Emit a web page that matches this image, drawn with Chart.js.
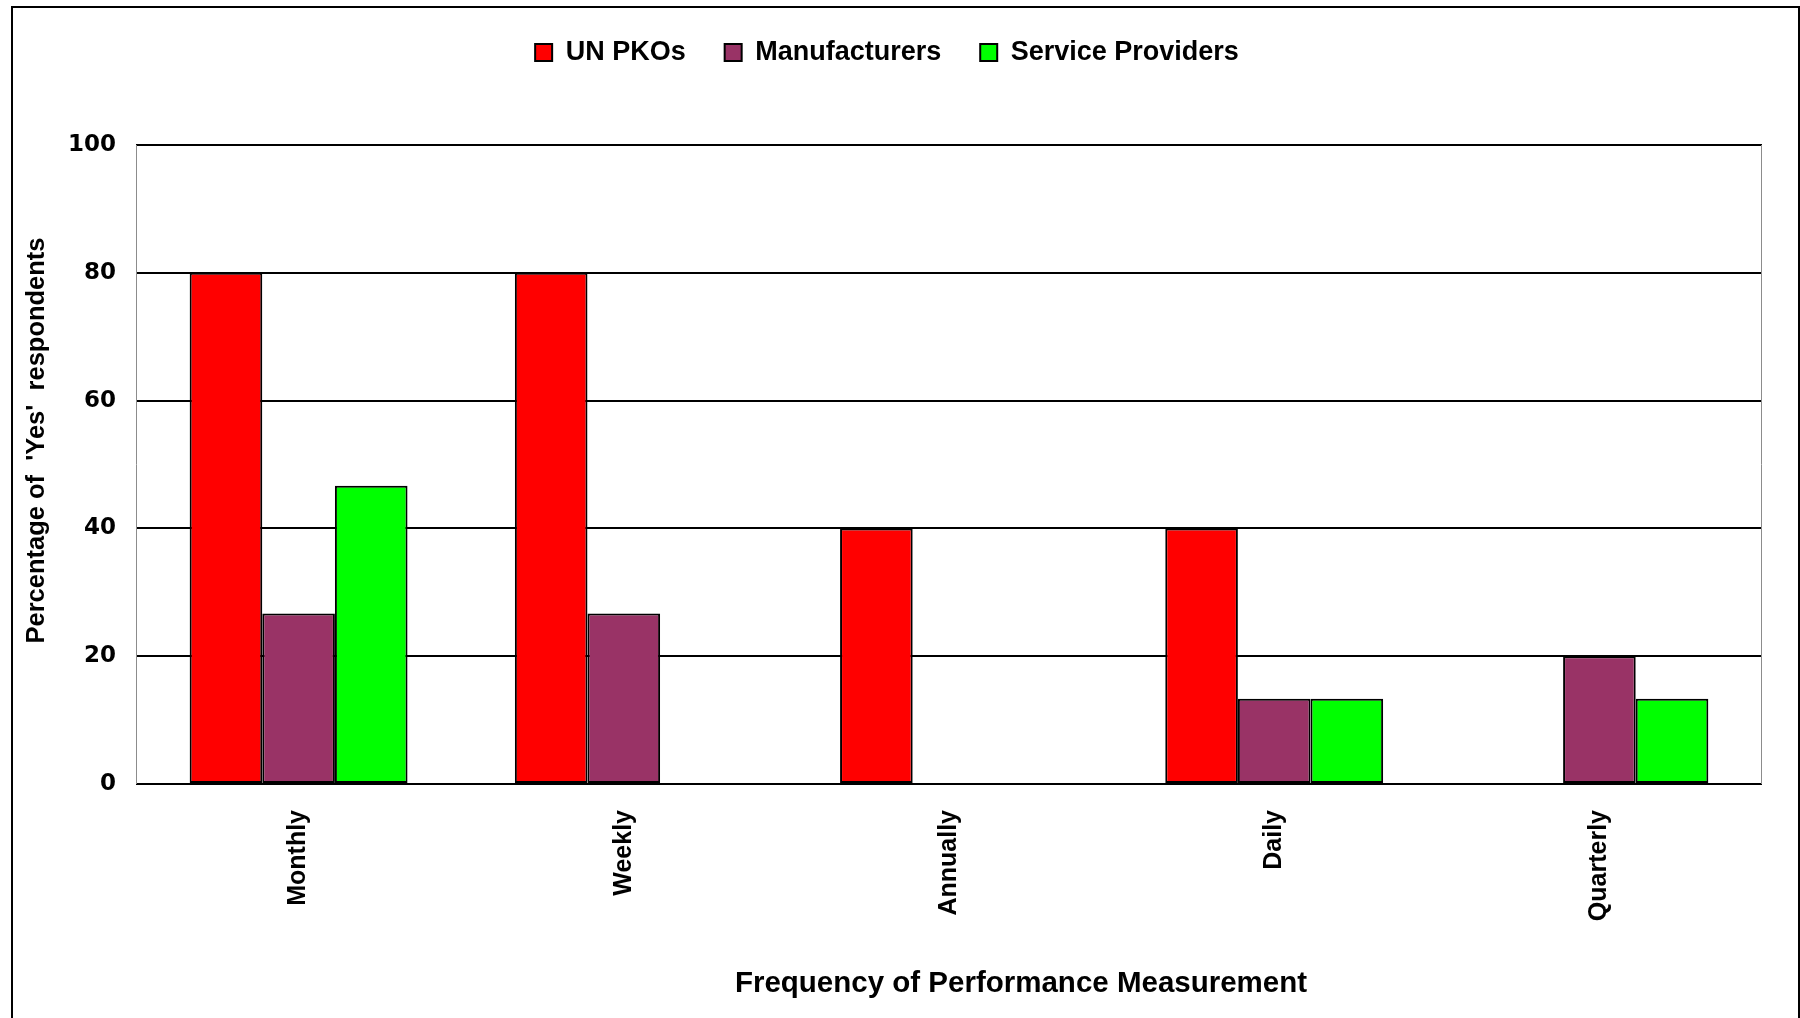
<!DOCTYPE html>
<html>
<head>
<meta charset="utf-8">
<title>Frequency of Performance Measurement</title>
<script src="https://cdn.jsdelivr.net/npm/chart.js"></script>
<style>
  html, body { margin: 0; padding: 0; background: #fff; overflow: hidden; }
  #wrap { position: relative; width: 1800px; height: 1018px; }
  #frame { position: absolute; left: 11px; top: 6px; width: 1785px; height: 1100px; border: 2px solid #000; pointer-events: none; }
</style>
</head>
<body>
<div id="wrap">
  <canvas id="chart" width="1800" height="1018"></canvas>
  <div id="frame"></div>
</div>
<script>
// survey results, % of 'Yes' answers per group
const categories = ['Monthly', 'Weekly', 'Annually', 'Daily', 'Quarterly'];
const unPkos = [80, 80, 40, 40, 0];
const manufacturers = [26.67, 26.67, 0, 13.33, 20];
const serviceProviders = [46.67, 0, 0, 13.33, 13.33];
const yTicks = [0, 20, 40, 60, 80, 100];

const xTitle = 'Frequency of Performance Measurement';
const yTitle = "Percentage of  'Yes'  respondents";

const ARIAL = '"Liberation Sans", Arial, sans-serif';

// axis titles, extra room under the legend and the grey side edges of the plot
const frameText = {
  id: 'frameText',
  beforeInit(chart) {
    const legend = chart.legend;
    if (!legend) return;
    const fit = legend.fit;
    legend.fit = function () {
      fit.call(this);
      this.height += 69;
    };
  },
  beforeDatasetsDraw(chart) {
    const { ctx, chartArea: a } = chart;
    ctx.save();
    ctx.strokeStyle = '#8c8c8c';
    ctx.lineWidth = 1;
    ctx.beginPath();
    ctx.moveTo(a.left + 0.5, a.top);
    ctx.lineTo(a.left + 0.5, a.bottom);
    ctx.moveTo(a.right - 0.5, a.top);
    ctx.lineTo(a.right - 0.5, a.bottom);
    ctx.stroke();
    ctx.restore();
  },
  afterDraw(chart) {
    const { ctx, chartArea: a } = chart;
    ctx.save();
    ctx.fillStyle = '#000';
    ctx.textAlign = 'center';
    ctx.textBaseline = 'middle';
    ctx.font = 'bold 29.5px ' + ARIAL;
    ctx.fillText(xTitle, (a.left + a.right) / 2 + 72, a.bottom + 200);
    ctx.translate(a.left - 99, (a.top + a.bottom) / 2 - 24);
    ctx.rotate(-Math.PI / 2);
    ctx.font = 'bold 25.5px ' + ARIAL;
    ctx.fillText(yTitle, 0, 0);
    ctx.restore();
  }
};

function barSet(label, data, color) {
  return {
    label,
    data,
    backgroundColor: color,
    borderColor: '#000',
    borderWidth: 2,
    borderSkipped: false,
    categoryPercentage: 0.67,
    barPercentage: 1.0
  };
}

new Chart(document.getElementById('chart'), {
  type: 'bar',
  data: {
    labels: categories,
    datasets: [
      barSet('UN PKOs', unPkos, '#ff0000'),
      barSet('Manufacturers', manufacturers, '#993366'),
      barSet('Service Providers', serviceProviders, '#00ff00')
    ]
  },
  options: {
    responsive: false,
    animation: false,
    layout: { padding: { left: 12, right: 38, top: 0, bottom: 0 } },
    plugins: {
      tooltip: { enabled: false },
      legend: {
        position: 'top',
        labels: {
          color: '#000',
          font: { family: ARIAL, size: 27, weight: 'bold' },
          boxWidth: 17,
          boxHeight: 17,
          padding: 39
        }
      }
    },
    scales: {
      x: {
        grid: { display: false, drawTicks: false },
        border: { display: false },
        ticks: {
          color: '#000',
          font: { family: ARIAL, size: 25, weight: 'bold' },
          maxRotation: 90,
          minRotation: 90,
          padding: 26
        },
        afterFit(scale) { scale.height = 234; }
      },
      y: {
        min: 0,
        max: 100,
        grid: { color: '#000', lineWidth: 2, drawTicks: false },
        border: { display: false },
        ticks: {
          color: '#000',
          font: { family: '"DejaVu Sans", sans-serif', size: 23, weight: 'bold' },
          padding: 20
        },
        afterBuildTicks(scale) { scale.ticks = yTicks.map(v => ({ value: v })); },
        afterFit(scale) { scale.width = 124; }
      }
    }
  },
  plugins: [frameText]
});
</script>
</body>
</html>
